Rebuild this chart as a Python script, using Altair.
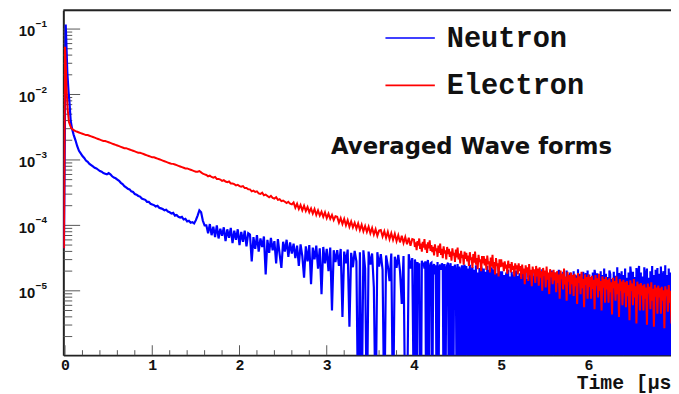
import altair as alt
import pandas as pd

# ---------------- data (log10 of amplitude) ----------------
T1_START, T1_STEP = 0.12, 0.02   # sampling grid from 0.12 to 3.98 µs
T2_START, T2_STEP = 4.00, 0.01   # sampling grid from 4.00 to 6.96 µs

neutron_t_early = [-0.012, 0.008, 0.015, 0.026, 0.04, 0.05, 0.065, 0.08, 0.10]
neutron_log_early = [-4.35, -0.93, -1.20, -1.65, -1.95, -2.10, -2.40, -2.52, -2.62]
electron_t_early = [-0.012, 0.0, 0.008, 0.018, 0.03, 0.045, 0.07, 0.10]
electron_log_early = [-4.35, -1.27, -1.52, -1.92, -2.22, -2.42, -2.51, -2.545]

# -7.0 marks samples that fall below the axis (zero / negative in the original)
neutron_log_1 = [
    -2.70, -2.79, -2.86, -2.90, -2.94, -2.97, -3.01, -3.03, -3.06, -3.08, -3.10, -3.12, -3.13, -3.15, -3.17, -3.18, -3.20, -3.21, -3.22, -3.20, -3.22, -3.25, -3.27, -3.28, -3.30,
    -3.32, -3.35, -3.37, -3.40, -3.42, -3.44, -3.45, -3.48, -3.49, -3.52, -3.53, -3.55, -3.56, -3.59, -3.60, -3.61, -3.64, -3.64, -3.67, -3.68, -3.69, -3.71, -3.70, -3.73, -3.74,
    -3.75, -3.77, -3.76, -3.79, -3.80, -3.82, -3.81, -3.85, -3.84, -3.87, -3.88, -3.87, -3.91, -3.90, -3.94, -3.93, -3.96, -3.95, -3.97, -3.92, -3.85, -3.77, -3.80, -3.93, -4.00,
    -4.00, -4.12, -3.98, -4.15, -4.02, -4.18, -4.00, -4.20, -4.05, -4.16, -4.03, -4.24, -4.06, -4.19, -4.04, -4.27, -4.08, -4.22, -4.06, -4.30, -4.10, -4.25, -4.08, -4.32, -4.12,
    -4.14, -4.55, -4.18, -4.36, -4.15, -4.40, -4.20, -4.33, -4.17, -4.75, -4.22, -4.42, -4.19, -4.38, -4.24, -4.58, -4.21, -4.44, -4.65, -4.25, -4.40, -4.22, -4.48, -4.26, -4.43,
    -4.28, -4.50, -4.31, -4.62, -4.29, -4.47, -4.80, -4.32, -4.55, -4.30, -4.90, -4.34, -4.52, -4.31, -4.66, -4.35, -5.05, -4.33, -4.58, -4.36, -4.70, -4.34, -5.30, -4.38, -4.56,
    -4.38, -4.62, -4.36, -5.40, -4.40, -4.58, -4.37, -5.55, -4.42, -4.64, -4.39, -4.55, -7.0, -4.41, -7.0, -4.38, -4.66, -7.0, -4.40, -4.60, -4.43, -4.95, -7.0, -4.41, -4.63,
    -4.44, -4.68, -7.0, -4.46, -4.62, -4.85, -4.43, -7.0, -4.48, -4.65, -4.45, -4.70, -5.20, -4.47, -7.0, -7.0, -4.44, -4.66, -4.50,
]
neutron_log_2 = [
    -7.0, -4.52, -4.60, -7.0, -4.56, -4.70, -4.58, -7.0, -7.0, -4.54, -4.62, -4.57, -4.66, -4.55, -7.0, -4.60, -4.53, -7.0, -4.64, -4.58,
    -4.57, -7.0, -4.63, -4.59, -4.75, -4.61, -7.0, -4.56, -7.0, -4.65, -4.60, -4.68, -4.58, -4.62, -7.0, -4.59, -7.0, -4.66, -4.61, -4.57,
    -7.0, -4.64, -4.58, -7.0, -4.62, -7.0, -4.67, -4.60, -4.72, -7.0, -4.59, -7.0, -4.63, -4.70, -7.0, -4.61, -7.0, -4.65, -4.60, -7.0,
    -4.62, -7.0, -4.66, -7.0, -4.60, -7.0, -4.70, -4.64, -7.0, -4.68, -7.0, -4.61, -7.0, -4.72, -7.0, -4.65, -7.0, -4.63, -4.69, -7.0,
    -4.66, -7.0, -4.71, -7.0, -4.62, -7.0, -4.68, -7.0, -4.75, -4.64, -7.0, -4.67, -7.0, -4.62, -7.0, -4.73, -7.0, -4.65, -7.0, -4.70,
    -7.0, -4.70, -7.0, -4.76, -7.0, -4.81, -4.72, -7.0, -4.68, -7.0, -4.78, -7.0, -4.71, -7.0, -4.75, -4.83, -7.0, -4.69, -7.0, -4.77,
    -7.0, -4.73, -7.0, -4.79, -7.0, -4.67, -7.0, -4.76, -4.71, -7.0, -4.82, -7.0, -4.74, -7.0, -4.69, -7.0, -4.77, -7.0, -4.72, -4.80,
    -7.0, -4.71, -7.0, -4.77, -7.0, -4.74, -7.0, -4.67, -7.0, -4.81, -4.75, -7.0, -4.70, -7.0, -4.78, -7.0, -4.73, -7.0, -4.69, -7.0,
    -4.76, -7.0, -4.72, -7.0, -4.80, -7.0, -4.68, -4.74, -7.0, -4.77, -7.0, -4.71, -7.0, -4.83, -7.0, -4.69, -7.0, -4.75, -7.0, -4.72,
    -7.0, -4.78, -7.0, -4.70, -7.0, -4.76, -4.81, -7.0, -4.67, -7.0, -4.74, -7.0, -4.79, -7.0, -4.71, -7.0, -4.77, -4.73, -7.0, -4.69,
    -7.0, -4.75, -7.0, -4.80, -7.0, -4.72, -7.0, -4.68, -4.77, -7.0, -4.73, -7.0, -4.81, -7.0, -4.70, -7.0, -4.76, -7.0, -4.66, -7.0,
    -4.74, -7.0, -4.79, -7.0, -4.69, -4.75, -7.0, -4.82, -7.0, -4.71, -7.0, -4.77, -7.0, -4.64, -7.0, -4.73, -4.78, -7.0, -4.70, -7.0,
    -4.76, -7.0, -4.66, -7.0, -4.80, -7.0, -4.72, -7.0, -4.63, -4.77, -7.0, -4.71, -7.0, -4.79, -7.0, -4.65, -7.0, -4.74, -4.62, -7.0,
    -4.72, -7.0, -4.78, -7.0, -4.64, -7.0, -4.75, -4.66, -7.0, -4.80, -7.0, -4.70, -7.0, -4.62, -7.0, -4.76, -7.0, -4.68, -7.0, -4.65,
    -7.0, -4.74, -7.0, -4.63, -7.0, -4.78, -4.70, -7.0, -4.61, -7.0, -4.76, -7.0, -4.66, -7.0, -4.72, -7.0, -4.64,
]

electron_log_1 = [
    -2.56, -2.57, -2.58, -2.59, -2.60, -2.61, -2.62, -2.62, -2.63, -2.64, -2.65, -2.66, -2.67, -2.68, -2.69, -2.70, -2.71, -2.71, -2.72, -2.73, -2.74, -2.75, -2.76, -2.77, -2.78,
    -2.79, -2.80, -2.81, -2.82, -2.82, -2.83, -2.84, -2.85, -2.86, -2.87, -2.88, -2.89, -2.89, -2.90, -2.91, -2.92, -2.93, -2.94, -2.95, -2.96, -2.96, -2.97, -2.98, -2.99, -3.00,
    -3.01, -3.02, -3.03, -3.04, -3.05, -3.06, -3.06, -3.07, -3.08, -3.09, -3.10, -3.11, -3.12, -3.13, -3.13, -3.14, -3.15, -3.16, -3.17, -3.18, -3.18, -3.17, -3.19, -3.21, -3.22,
    -3.23, -3.25, -3.24, -3.26, -3.27, -3.26, -3.29, -3.29, -3.30, -3.32, -3.31, -3.33, -3.34, -3.33, -3.36, -3.36, -3.37, -3.39, -3.38, -3.40, -3.41, -3.40, -3.43, -3.43, -3.45,
    -3.45, -3.48, -3.47, -3.49, -3.48, -3.51, -3.52, -3.50, -3.54, -3.53, -3.55, -3.57, -3.55, -3.58, -3.59, -3.57, -3.61, -3.60, -3.63, -3.62, -3.64, -3.66, -3.64, -3.67, -3.68,
    -3.65, -3.73, -3.67, -3.75, -3.69, -3.77, -3.70, -3.78, -3.72, -3.80, -3.74, -3.82, -3.75, -3.84, -3.77, -3.85, -3.79, -3.87, -3.80, -3.89, -3.82, -3.90, -3.84, -3.92, -3.86,
    -3.87, -3.96, -3.89, -3.98, -3.90, -4.00, -3.92, -4.02, -3.94, -4.03, -3.96, -4.05, -3.97, -4.07, -3.99, -4.09, -4.01, -4.10, -4.02, -4.12, -4.04, -4.14, -4.06, -4.16, -4.08,
    -4.07, -4.17, -4.09, -4.19, -4.10, -4.21, -4.12, -4.22, -4.13, -4.24, -4.15, -4.26, -4.16, -4.27, -4.18, -4.29, -4.19, -4.31, -4.21,
]
electron_log_2 = [
    -4.22, -4.33, -4.26, -4.38, -4.24, -4.31, -4.20, -4.36, -4.28, -4.40, -4.25, -4.34, -4.21, -4.37, -4.29, -4.42, -4.26, -4.35, -4.23, -4.39,
    -4.30, -4.41, -4.33, -4.46, -4.29, -4.39, -4.35, -4.48, -4.31, -4.42, -4.28, -4.45, -4.36, -4.50, -4.32, -4.43, -4.38, -4.52, -4.33, -4.44,
    -4.36, -4.48, -4.40, -4.54, -4.35, -4.46, -4.42, -4.56, -4.37, -4.49, -4.34, -4.52, -4.43, -4.58, -4.39, -4.50, -4.45, -4.60, -4.40, -4.51,
    -4.42, -4.55, -4.46, -4.62, -4.41, -4.53, -4.49, -4.65, -4.44, -4.57, -4.40, -4.60, -4.50, -4.67, -4.45, -4.56, -4.52, -4.70, -4.47, -4.58,
    -4.47, -4.61, -4.51, -4.68, -4.46, -4.59, -4.55, -4.72, -4.49, -4.63, -4.45, -4.66, -4.56, -4.75, -4.50, -4.62, -4.58, -4.78, -4.52, -4.64,
    -4.52, -4.63, -4.57, -4.70, -4.55, -4.66, -4.60, -4.74, -4.54, -4.65, -4.59, -4.72, -4.56, -4.68, -4.62, -4.78, -4.58, -4.67, -4.61, -4.75,
    -4.58, -4.70, -4.62, -4.82, -4.60, -4.74, -4.66, -4.90, -4.61, -4.72, -4.64, -4.85, -4.59, -4.76, -4.68, -4.93, -4.63, -4.73, -4.67, -4.88,
    -4.62, -4.78, -4.66, -4.92, -4.64, -4.80, -4.70, -5.00, -4.65, -4.77, -4.69, -4.95, -4.63, -4.83, -4.72, -5.05, -4.67, -4.79, -4.71, -4.90,
    -4.68, -4.84, -4.72, -5.02, -4.70, -4.88, -4.75, -5.12, -4.69, -4.82, -4.74, -4.98, -4.66, -4.90, -4.78, -5.15, -4.71, -4.86, -4.76, -5.05,
    -4.72, -4.90, -4.76, -5.08, -4.74, -4.93, -4.80, -5.20, -4.73, -4.88, -4.78, -5.05, -4.71, -4.96, -4.82, -5.25, -4.75, -4.91, -4.79, -5.12,
    -4.75, -4.94, -4.79, -5.12, -4.77, -4.97, -4.83, -5.28, -4.76, -4.92, -4.81, -5.10, -4.74, -5.00, -4.85, -5.30, -4.78, -4.95, -4.82, -5.18,
    -4.79, -4.98, -4.83, -5.18, -4.81, -5.02, -4.87, -5.36, -4.80, -4.96, -4.85, -5.15, -4.78, -5.05, -4.89, -5.40, -4.82, -5.00, -4.86, -5.22,
    -4.83, -5.03, -4.87, -5.25, -4.85, -5.08, -4.91, -5.45, -4.84, -5.00, -4.89, -5.22, -4.82, -5.10, -4.93, -5.50, -4.86, -5.05, -4.90, -5.30,
    -4.88, -5.07, -4.92, -5.30, -4.90, -5.12, -4.95, -5.52, -4.89, -5.04, -4.94, -5.28, -4.87, -5.15, -4.97, -5.55, -4.91, -5.09, -4.95, -5.35,
    -4.92, -5.10, -4.96, -5.35, -4.94, -5.15, -4.99, -5.57, -4.93, -5.08, -4.98, -5.32, -4.91, -5.18, -5.00, -5.50, -4.95,
]

series_names = ["Neutron", "Electron"]
series_colors = ["#0000ff", "#ff0000"]

y_major = [1e-5, 1e-4, 1e-3, 1e-2, 1e-1]
y_exponents = ["\u22125", "\u22124", "\u22123", "\u22122", "\u22121"]
y_minor = [m * 10.0 ** k for k in range(-6, -1) for m in range(2, 10)]
x_major = [0, 1, 2, 3, 4, 5, 6]
x_minor = [round(0.2 * i, 1) for i in range(1, 35) if i % 5]
chart_title = "Averaged Wave forms"


def build(name, t_early, log_early, log_1, log_2):
    rows = [(t, 10.0 ** v, name) for t, v in zip(t_early, log_early)]
    rows += [(round(T1_START + i * T1_STEP, 4), 10.0 ** v, name) for i, v in enumerate(log_1)]
    rows += [(round(T2_START + i * T2_STEP, 4), 10.0 ** v, name) for i, v in enumerate(log_2)]
    return pd.DataFrame(rows, columns=["t", "amp", "series"])


df_n = build("Neutron", neutron_t_early, neutron_log_early, neutron_log_1, neutron_log_2)
df_e = build("Electron", electron_t_early, electron_log_early, electron_log_1, electron_log_2)

# ---------------- layout ----------------
W, H = 615, 349
x_scale = alt.Scale(domain=[-0.0193, 6.946], nice=False, zero=False)
y_scale = alt.Scale(type="log", domain=[1.04e-6, 0.1935], nice=False)
c_scale = alt.Scale(domain=series_names, range=series_colors)

x_axis = alt.Axis(values=x_major, format="d", labelFont="Liberation Mono", labelFontWeight="bold",
                  labelFontSize=15, labelColor="#111", labelPadding=3, labelFlush=False,
                  labelOverlap=False, ticks=False, tickSize=0, grid=False,
                  domainColor="#222", domainWidth=2,
                  title="Time [\u03bcs]", titleFont="Liberation Mono", titleFontWeight="bold",
                  titleFontSize=20, titleColor="#111", titleX=519, titleY=34,
                  titleAlign="left", titleBaseline="alphabetic")
y_axis = alt.Axis(values=y_major, labelExpr="'10'", labelFont="Liberation Sans", labelFontWeight="bold",
                  labelFontSize=15, labelColor="#111", labelPadding=29, labelOffset=2,
                  labelFlush=False, labelOverlap=False, ticks=False, tickSize=0, grid=False,
                  domainColor="#222", domainWidth=2, title=None)

legend = alt.Legend(orient="none", legendX=325, legendY=2, title=None, symbolType="stroke",
                    symbolSize=2500, symbolStrokeWidth=1.6, labelFont="Liberation Mono",
                    labelFontWeight="bold", labelFontSize=29, labelColor="#111",
                    labelOffset=11, rowPadding=7, padding=0)

X = lambda f: alt.X(f, scale=x_scale, axis=x_axis)
Y = lambda f: alt.Y(f, scale=y_scale, axis=y_axis)

neutron_line = alt.Chart(df_n).mark_line(strokeWidth=2.2, clip=True).encode(
    x=X("t:Q"), y=Y("amp:Q"),
    color=alt.Color("series:N", scale=c_scale, legend=legend),
)
electron_line = alt.Chart(df_e).mark_line(strokeWidth=2.0, clip=True).encode(
    x=X("t:Q"), y=Y("amp:Q"),
    color=alt.Color("series:N", scale=c_scale, legend=legend),
)

ymaj = alt.Chart(pd.DataFrame({"v": y_major})).mark_rule(color="#555", strokeWidth=1).encode(
    y=Y("v:Q"), x=alt.value(0), x2=alt.value(17))
ymin = alt.Chart(pd.DataFrame({"v": y_minor})).mark_rule(color="#555", strokeWidth=1, clip=True).encode(
    y=Y("v:Q"), x=alt.value(0), x2=alt.value(9))
xmaj = alt.Chart(pd.DataFrame({"v": x_major})).mark_rule(color="#555", strokeWidth=1).encode(
    x=X("v:Q"), y=alt.value(H), y2=alt.value(H - 10))
xmin = alt.Chart(pd.DataFrame({"v": x_minor})).mark_rule(color="#555", strokeWidth=1).encode(
    x=X("v:Q"), y=alt.value(H), y2=alt.value(H - 5))

exps = alt.Chart(pd.DataFrame({"v": y_major, "e": y_exponents})).mark_text(
    align="left", baseline="middle", dy=-5, font="Liberation Sans", fontWeight="bold",
    fontSize=10, color="#111").encode(
    x=alt.value(-28), y=Y("v:Q"), text="e:N")

top_frame = alt.Chart(pd.DataFrame({"v": [0]})).mark_rule(color="#222", strokeWidth=2).encode(
    x=alt.value(0), x2=alt.value(W), y=alt.value(0))

title_text = alt.Chart(pd.DataFrame({"label": [chart_title]})).mark_text(
    align="left", baseline="alphabetic", font="DejaVu Sans", fontWeight="bold",
    fontSize=23, color="#111").encode(x=alt.value(271), y=alt.value(145), text="label:N")

chart = alt.layer(
    ymin, ymaj, xmin, xmaj, neutron_line, electron_line, exps, top_frame, title_text
).properties(
    width=W, height=H,
    autosize=alt.AutoSizeParams(type="none"),
    padding={"left": 56, "top": 0, "right": 0, "bottom": 37},
).configure_view(stroke=None).configure(background="white")

chart.save("out.html", embed_options={"renderer": "svg", "actions": False})
